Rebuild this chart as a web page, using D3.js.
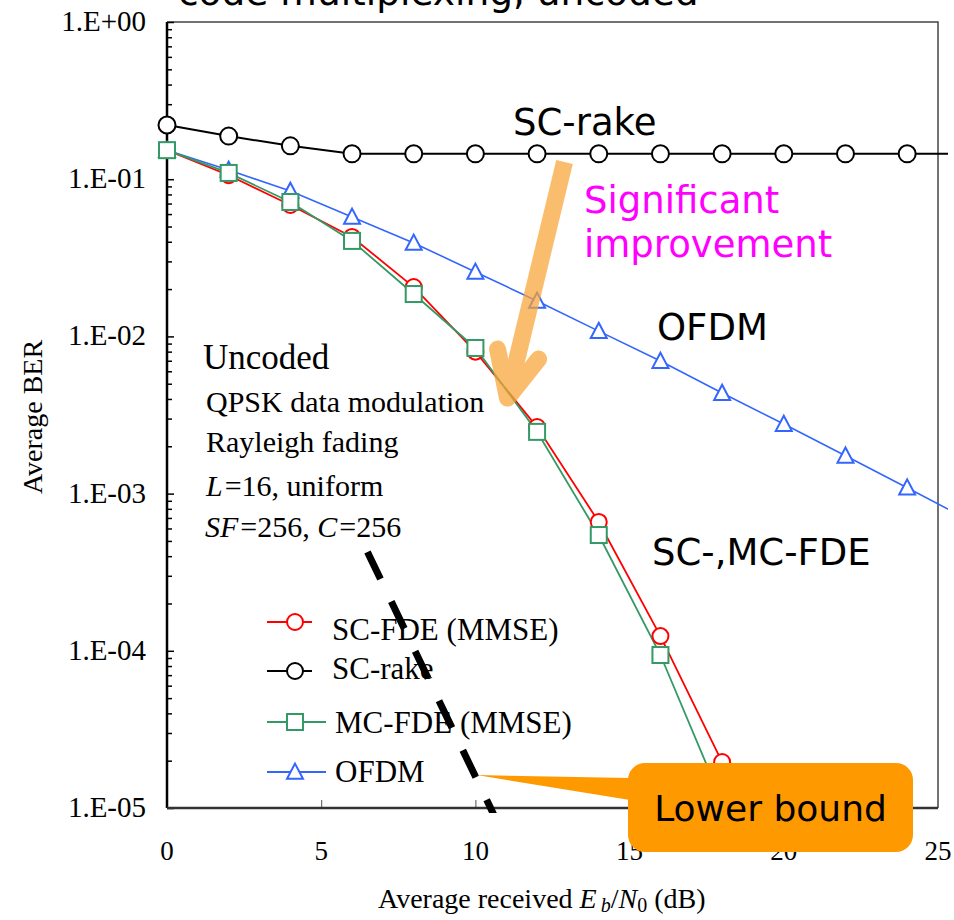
<!DOCTYPE html>
<html>
<head>
<meta charset="utf-8">
<script src="https://cdn.jsdelivr.net/npm/d3@7/dist/d3.min.js"></script>
<style>
  body { margin: 0; background: #fff; }
  svg { display: block; }
</style>
</head>
<body>
<svg id="chart" width="954" height="920"></svg>
<script>
// Eb/N0 (dB) sample points for each curve
const fdeSnr  = [0, 2, 4, 6, 8, 10, 12, 14, 16, 18];
const rakeSnr = [0, 2, 4, 6, 8, 10, 12, 14, 16, 18, 20, 22, 24, 26];
const ofdmSnr = [0, 2, 4, 6, 8, 10, 12, 14, 16, 18, 20, 22, 24, 26];

// Average BER values
const scFdeBer = [0.153, 0.106, 0.0686, 0.0429, 0.0206, 0.0080, 0.00265, 0.00066, 1.24e-4, 1.96e-5];
const mcFdeBer = [0.153, 0.1096, 0.0716, 0.0405, 0.0186, 0.00844, 0.00247, 5.45e-4, 9.4e-5, 1.1e-5];
const scRakeBer = [0.221, 0.188, 0.163, 0.145, 0.145, 0.145, 0.145, 0.145, 0.145, 0.145, 0.145, 0.145, 0.145, 0.145];
const ofdmBer = [0.153, 0.1145, 0.0841, 0.0575, 0.0393, 0.0257, 0.0168, 0.0108, 0.00697, 0.00436, 0.00277, 0.00174, 0.00109, 6.8e-4];

// Lower-bound reference line (dB, BER)
const boundSnr = [6.5, 11.0];
const boundBer = [4.25e-4, 6.2e-6];

// Axis ticks
const xTicks = [0, 5, 10, 15, 20, 25];
const yTicks = [1, 1e-1, 1e-2, 1e-3, 1e-4, 1e-5];
const yTickLabels = ["1.E+00", "1.E-01", "1.E-02", "1.E-03", "1.E-04", "1.E-05"];

const serif = "'Liberation Serif', 'Times New Roman', serif";
const sans = "'DejaVu Sans', Verdana, sans-serif";

const svg = d3.select("#chart");
const x = d3.scaleLinear().domain([0, 25]).range([167, 938]);
const y = d3.scaleLog().domain([1e-5, 1]).range([808, 22]);

// title (partly above the top edge)
svg.append("text")
  .attr("x", 178).attr("y", 5)
  .attr("font-family", sans).attr("font-size", 37.5)
  .text("code multiplexing, uncoded");

// plot frame
const [x0, x1] = x.range();
const [yb, yt] = y.range();
svg.append("path")
  .attr("d", `M${x0},${yt}H${x1}V${yb}`)
  .attr("fill", "none").attr("stroke", "#444").attr("stroke-width", 1.5);

// y minor / major ticks (inside)
const minor = [];
for (let e = -5; e < 0; e++) for (let m = 2; m <= 9; m++) minor.push(m * Math.pow(10, e));
svg.append("g").attr("transform", `translate(${x0},0)`)
  .call(d3.axisRight(y).tickValues(minor).tickSize(5).tickFormat(""))
  .call(g => g.select(".domain").remove())
  .call(g => g.selectAll("line").attr("stroke", "#000").attr("stroke-width", 1.5));
svg.append("g").attr("transform", `translate(${x0},0)`)
  .call(d3.axisRight(y).tickValues(yTicks).tickSize(7).tickFormat(""))
  .call(g => g.select(".domain").remove())
  .call(g => g.selectAll("line").attr("stroke", "#000").attr("stroke-width", 1.5));

// x ticks (inside)
svg.append("g").attr("transform", `translate(0,${yb})`)
  .call(d3.axisTop(x).tickValues(xTicks.slice(1, -1)).tickSize(8).tickFormat(""))
  .call(g => g.select(".domain").remove())
  .call(g => g.selectAll("line").attr("stroke", "#555").attr("stroke-width", 1));

// axis lines
svg.append("line").attr("x1", x0).attr("x2", x0).attr("y1", yt).attr("y2", yb)
  .attr("stroke", "#000").attr("stroke-width", 2.5);
svg.append("line").attr("x1", x0).attr("x2", x1).attr("y1", yb).attr("y2", yb)
  .attr("stroke", "#333").attr("stroke-width", 2.5);

// tick labels
svg.append("g").selectAll("text").data(yTicks).join("text")
  .attr("x", 146).attr("y", d => y(d) + 9)
  .attr("text-anchor", "end")
  .attr("font-family", serif).attr("font-size", 29)
  .text((d, i) => yTickLabels[i]);
svg.append("g").selectAll("text").data(xTicks).join("text")
  .attr("x", d => x(d)).attr("y", 860)
  .attr("text-anchor", "middle")
  .attr("font-family", serif).attr("font-size", 27)
  .text(d => d);

// axis titles
svg.append("text")
  .attr("transform", "translate(42,417) rotate(-90)")
  .attr("text-anchor", "middle")
  .attr("font-family", serif).attr("font-size", 28)
  .text("Average BER");
const xt = svg.append("text").attr("x", 378).attr("y", 908)
  .attr("font-family", serif).attr("font-size", 28);
xt.append("tspan").text("Average received ");
xt.append("tspan").attr("font-style", "italic").text("E");
xt.append("tspan").attr("font-style", "italic").attr("font-size", 20).attr("dx", 4).attr("dy", 4).text("b");
xt.append("tspan").attr("dy", -4).text("/");
xt.append("tspan").attr("font-style", "italic").text("N");
xt.append("tspan").attr("font-size", 20).attr("dy", 4).text("0");
xt.append("tspan").attr("dy", -4).text(" (dB)");

// series
svg.append("defs").append("clipPath").attr("id", "plotClip")
  .append("rect").attr("x", 140).attr("y", yt).attr("width", 808).attr("height", yb - yt);

const series = [
  { name: "SC-rake", snr: rakeSnr, ber: scRakeBer, color: "#000000", marker: "circle", width: 2 },
  { name: "OFDM", snr: ofdmSnr, ber: ofdmBer, color: "#3366FF", marker: "triangle", width: 1.6 },
  { name: "SC-FDE (MMSE)", snr: fdeSnr, ber: scFdeBer, color: "#FF0000", marker: "circle", width: 1.8 },
  { name: "MC-FDE (MMSE)", snr: fdeSnr, ber: mcFdeBer, color: "#339966", marker: "square", width: 1.8 },
];

const line = d3.line().x(d => x(d[0])).y(d => y(d[1]));
const plot = svg.append("g").attr("clip-path", "url(#plotClip)");

function drawMarker(g, type, cx, cy, color, r) {
  if (type === "circle") {
    g.append("circle").attr("cx", cx).attr("cy", cy).attr("r", r)
      .attr("fill", "#fff").attr("stroke", color).attr("stroke-width", 2);
  } else if (type === "square") {
    g.append("rect").attr("x", cx - r).attr("y", cy - r).attr("width", 2 * r).attr("height", 2 * r)
      .attr("fill", "#fff").attr("stroke", color).attr("stroke-width", 2);
  } else {
    const h = r * 1.9;
    g.append("path")
      .attr("d", `M${cx},${cy - h * 0.55}L${cx + r},${cy + h * 0.45}L${cx - r},${cy + h * 0.45}Z`)
      .attr("fill", "#fff").attr("stroke", color).attr("stroke-width", 2);
  }
}

series.forEach(s => {
  const pts = s.snr.map((v, i) => [v, s.ber[i]]);
  plot.append("path").datum(pts)
    .attr("d", line).attr("fill", "none")
    .attr("stroke", s.color).attr("stroke-width", s.width);
});
series.forEach(s => {
  const g = plot.append("g");
  s.snr.forEach((v, i) => {
    if (v > 25) return;
    const r = s.name === "SC-rake" ? 8.5 : 8;
    drawMarker(g, s.marker, x(v), y(s.ber[i]), s.color, r);
  });
});

// curve labels
const labels = [
  { t: "SC-rake", x: 513, y: 135, c: "#000" },
  { t: "Significant", x: 584, y: 213, c: "#FF00FF" },
  { t: "improvement", x: 584, y: 257, c: "#FF00FF" },
  { t: "OFDM", x: 657, y: 340, c: "#000" },
  { t: "SC-,MC-FDE", x: 652, y: 565, c: "#000" },
];
svg.append("g").selectAll("text").data(labels).join("text")
  .attr("x", d => d.x).attr("y", d => d.y)
  .attr("fill", d => d.c)
  .attr("font-family", sans).attr("font-size", 37)
  .text(d => d.t);

// simulation conditions
const cond = svg.append("g").attr("font-family", serif);
cond.append("text").attr("x", 203).attr("y", 369).attr("font-size", 35).text("Uncoded");
cond.append("text").attr("x", 206).attr("y", 412).attr("font-size", 30).text("QPSK data modulation");
cond.append("text").attr("x", 206).attr("y", 452).attr("font-size", 30).text("Rayleigh fading");
const l16 = cond.append("text").attr("x", 206).attr("y", 496).attr("font-size", 30);
l16.append("tspan").attr("font-style", "italic").text("L");
l16.append("tspan").attr("dx", 2).text("=16, uniform");
const sf = cond.append("text").attr("x", 205).attr("y", 537).attr("font-size", 30);
sf.append("tspan").attr("font-style", "italic").text("SF");
sf.append("tspan").attr("dx", 2).text("=256, ");
sf.append("tspan").attr("font-style", "italic").text("C");
sf.append("tspan").attr("dx", 2).text("=256");

// legend
const legendRows = [
  { s: series[2], cy: 622, lx: [267, 312], tx: 332, ty: 640 },
  { s: series[0], cy: 671, lx: [267, 312], tx: 332, ty: 679 },
  { s: series[3], cy: 722, lx: [267, 326], tx: 335, ty: 733 },
  { s: series[1], cy: 772, lx: [267, 326], tx: 335, ty: 782 },
];
const lg = svg.append("g");
legendRows.forEach(r => {
  lg.append("line").attr("x1", r.lx[0]).attr("x2", r.lx[1]).attr("y1", r.cy).attr("y2", r.cy)
    .attr("stroke", r.s.color).attr("stroke-width", 2);
  drawMarker(lg, r.s.marker, 295, r.cy, r.s.color, 8);
  lg.append("text").attr("x", r.tx).attr("y", r.ty)
    .attr("font-family", serif).attr("font-size", 31).text(r.s.name);
});

// lower bound (thick dashed)
svg.append("defs").append("clipPath").attr("id", "boundClip")
  .append("rect").attr("x", x0).attr("y", yt).attr("width", x1 - x0).attr("height", yb - yt + 5);
svg.append("path")
  .datum(boundSnr.map((v, i) => [v, boundBer[i]]))
  .attr("clip-path", "url(#boundClip)")
  .attr("d", line).attr("fill", "none")
  .attr("stroke", "#000").attr("stroke-width", 7)
  .attr("stroke-dasharray", "30 25");

// improvement arrow
const tail = [x(12.89), y(0.1287)];
const tip = [x(11.04), y(0.00405)];
const ang = Math.atan2(tail[1] - tip[1], tail[0] - tip[0]);
const armLen = 50, spread = 25 * Math.PI / 180;
const armA = [tip[0] + armLen * Math.cos(ang - spread), tip[1] + armLen * Math.sin(ang - spread)];
const armB = [tip[0] + armLen * Math.cos(ang + spread), tip[1] + armLen * Math.sin(ang + spread)];
const arrow = svg.append("g").attr("opacity", 0.72);
arrow.append("line")
  .attr("x1", tail[0]).attr("y1", tail[1]).attr("x2", tip[0]).attr("y2", tip[1])
  .attr("stroke", "#F9A535").attr("stroke-width", 17).attr("stroke-linecap", "butt");
arrow.append("path")
  .attr("d", `M${armA[0]},${armA[1]}L${tip[0]},${tip[1]}L${armB[0]},${armB[1]}`)
  .attr("fill", "none").attr("stroke", "#F9A535").attr("stroke-width", 17)
  .attr("stroke-linecap", "round").attr("stroke-linejoin", "round");

// "Lower bound" callout
const pTip = [x(10.04), y(1.62e-5)];
const box = { x: 628, y: 763, w: 285, h: 89, r: 17 };
const callout = svg.append("g");
callout.append("path")
  .attr("d", `M${box.x + 2},${box.y + 15}L${pTip[0]},${pTip[1]}L${box.x + 2},${box.y + 37}Z`)
  .attr("fill", "#FF9900");
callout.append("rect")
  .attr("x", box.x).attr("y", box.y).attr("width", box.w).attr("height", box.h)
  .attr("rx", box.r).attr("fill", "#FF9900");
callout.append("text")
  .attr("x", box.x + box.w / 2).attr("y", box.y + 58)
  .attr("text-anchor", "middle")
  .attr("font-family", sans).attr("font-size", 36)
  .text("Lower bound");
</script>
</body>
</html>
